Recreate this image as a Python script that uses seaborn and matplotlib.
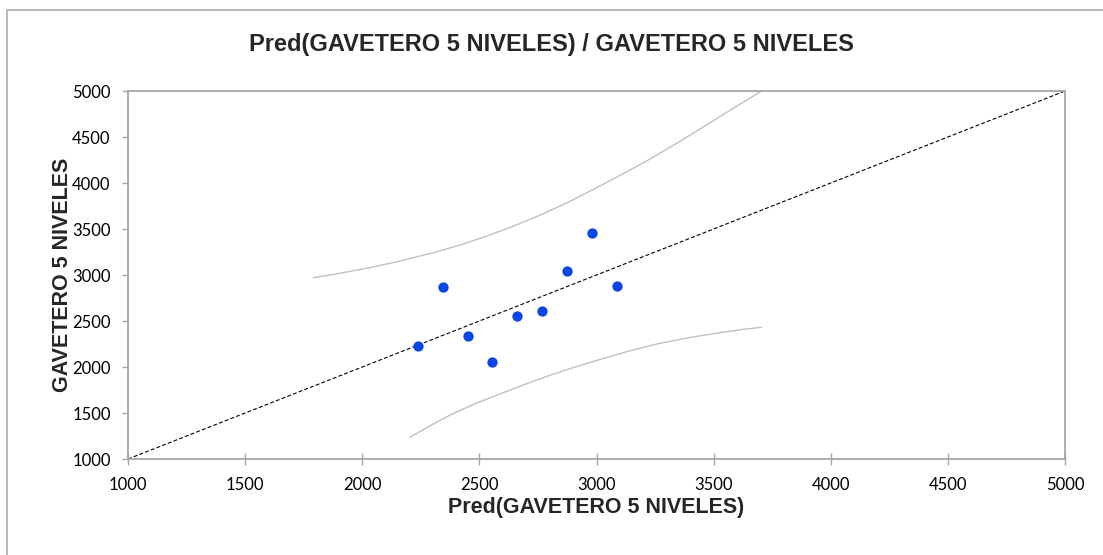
import matplotlib
matplotlib.use("Agg")
import matplotlib.pyplot as plt
from matplotlib.patches import Rectangle
import seaborn as sns
import pandas as pd

# Observed vs. predicted values
pred_vals = [2237, 2343, 2450, 2555, 2662, 2769, 2875, 2981, 3086]
obs_vals = [2228, 2866, 2333, 2051, 2558, 2609, 3043, 3460, 2880]

# Upper and lower confidence curves
upper_x = [1791, 1900, 2019, 2150, 2303, 2420, 2517, 2640, 2759, 2880,
           3001, 3110, 3214, 3320, 3428, 3570, 3705]
upper_y = [2971, 3017, 3073, 3145, 3242, 3328, 3410, 3525, 3650, 3792,
           3950, 4095, 4240, 4398, 4565, 4790, 5000]
lower_x = [2204, 2290, 2375, 2480, 2588, 2695, 2801, 2908, 3015, 3136,
           3257, 3400, 3541, 3623, 3705]
lower_y = [1236, 1362, 1478, 1600, 1707, 1812, 1910, 2000, 2082, 2172,
           2250, 2322, 2378, 2408, 2432]

# Axis range and ticks
axis_lim = [1000, 5000]
ticks = [1000, 1500, 2000, 2500, 3000, 3500, 4000, 4500, 5000]

title = "Pred(GAVETERO 5 NIVELES) / GAVETERO 5 NIVELES"
xlabel = "Pred(GAVETERO 5 NIVELES)"
ylabel = "GAVETERO 5 NIVELES"

sns.set_theme(style="white")
plt.rcParams["font.family"] = ["Lato", "DejaVu Sans"]
bold_family = ["Liberation Sans", "DejaVu Sans"]

W, H = 1103, 555
fig = plt.figure(figsize=(W / 100, H / 100), dpi=100)
ax = fig.add_axes([128 / W, 1 - 459 / H, (1065 - 128) / W, (459 - 91) / H])

spine_col = "#a6a6a6"
curve_col = "#c0c0c0"

# Outer chart frame
fig.patches.append(Rectangle((7 / W, -0.1), 1.2, 1 - 10 / H + 0.1,
                             transform=fig.transFigure, fill=False,
                             edgecolor=spine_col, linewidth=1.1, clip_on=False))

curves = pd.concat([
    pd.DataFrame({"x": upper_x, "y": upper_y, "band": "upper"}),
    pd.DataFrame({"x": lower_x, "y": lower_y, "band": "lower"}),
])
sns.lineplot(data=curves, x="x", y="y", units="band", estimator=None,
             sort=False, color=curve_col, linewidth=1.0, ax=ax)

ax.plot(axis_lim, axis_lim, color="black", linestyle=(0, (3.5, 2)),
        linewidth=0.8)

pts = pd.DataFrame({"pred": pred_vals, "obs": obs_vals})
sns.scatterplot(data=pts, x="pred", y="obs", color="#0a46e6", s=55,
                linewidth=0, ax=ax, zorder=5)

ax.set_xlim(axis_lim)
ax.set_ylim(axis_lim)
ax.set_xticks(ticks)
ax.set_yticks(ticks)
ax.set_xticklabels([str(t) for t in ticks])
ax.set_yticklabels([str(t) for t in ticks])

for s in ax.spines.values():
    s.set_color(spine_col)
    s.set_linewidth(1.3)

ax.tick_params(axis="x", direction="inout", length=8, width=1.0,
               color=spine_col, labelsize=12, pad=9, labelcolor="black")
ax.tick_params(axis="y", direction="out", length=4.5, width=1.0,
               color=spine_col, labelsize=12, pad=8, labelcolor="black")
ax.tick_params(bottom=True, left=True)

ax.set_xlabel(xlabel, fontsize=15.5, fontweight="bold",
              family=bold_family, va="center")
ax.set_ylabel(ylabel, fontsize=15.5, fontweight="bold",
              family=bold_family, va="center")
ax.xaxis.set_label_coords(0.5, (459 - 508) / 368)
ax.yaxis.set_label_coords((62 - 128) / 937, 0.5)

fig.text(0.5, 1 - 44 / H, title, ha="center", va="center", fontsize=17,
         fontweight="bold", family=bold_family)

fig.savefig("out.png", dpi=100, facecolor="white")
